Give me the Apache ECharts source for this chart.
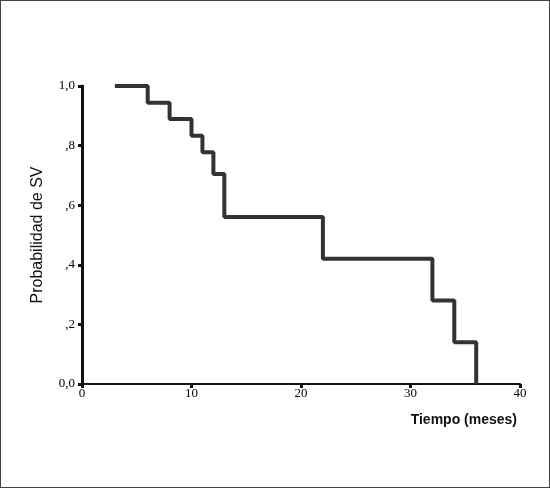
<!DOCTYPE html>
<html>
<head>
<meta charset="utf-8">
<script src="https://cdn.jsdelivr.net/npm/echarts@6/dist/echarts.min.js"></script>
<style>
  html, body { margin: 0; padding: 0; background: #fff; }
  #chart { width: 548px; height: 486px; border: 1px solid #444; }
</style>
</head>
<body>
<div id="chart"></div>
<script>
// Kaplan-Meier curve
const tiempos = [3, 6, 8, 10, 11, 12, 13, 22, 32, 34, 36];
const supervivencia = [1.0, 0.944, 0.889, 0.833, 0.778, 0.705, 0.56, 0.42, 0.28, 0.14, 0.0];
const yTickLabels = { '0': '0,0', '0.2': ',2', '0.4': ',4', '0.6': ',6', '0.8': ',8', '1': '1,0' };

const chart = echarts.init(document.getElementById('chart'));

const option = {
    animation: false,
    grid: { left: 81, right: 29, top: 85, bottom: 103 },
    xAxis: {
        type: 'value',
        min: 0,
        max: 40,
        interval: 10,
        splitLine: { show: false },
        axisLine: { lineStyle: { color: '#111', width: 2 } },
        axisTick: { show: true, length: 4, lineStyle: { color: '#111', width: 3 } },
        axisLabel: { fontFamily: 'Liberation Serif', fontSize: 13, color: '#000', margin: 3 }
    },
    yAxis: {
        type: 'value',
        min: 0,
        max: 1,
        interval: 0.2,
        name: 'Probabilidad de SV',
        nameLocation: 'middle',
        nameGap: 36,
        nameTextStyle: { fontFamily: 'Liberation Sans', fontSize: 16, color: '#111' },
        splitLine: { show: false },
        axisLine: { show: true, lineStyle: { color: '#111', width: 3 } },
        axisTick: { show: true, length: 4, lineStyle: { color: '#111', width: 3 } },
        axisLabel: {
            fontFamily: 'Liberation Serif', fontSize: 13, color: '#000', margin: 7,
            formatter: v => yTickLabels[String(Math.round(v * 10) / 10)]
        }
    },
    graphic: [
        {
            type: 'text',
            right: 32,
            top: 412,
            style: {
                text: 'Tiempo (meses)',
                font: 'bold 14px "Liberation Sans"',
                fill: '#111'
            }
        }
    ],
    series: [
        {
            type: 'line',
            step: 'end',
            data: tiempos.map((t, i) => [t, supervivencia[i]]),
            symbol: 'none',
            lineStyle: { color: '#333', width: 4 }
        }
    ]
};

chart.setOption(option);
</script>
</body>
</html>
